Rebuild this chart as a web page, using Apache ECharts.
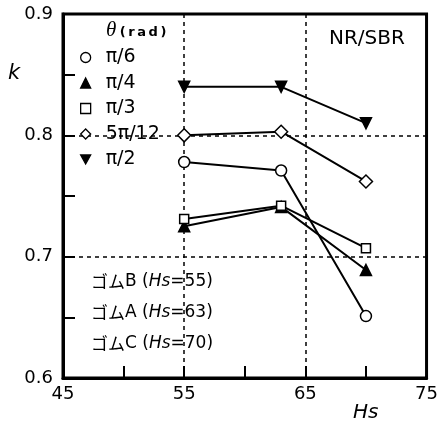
<!DOCTYPE html>
<html><head><meta charset="utf-8">
<script src="https://cdn.jsdelivr.net/npm/echarts@6/dist/echarts.min.js"></script>
<style>html,body{margin:0;padding:0;background:#fff}#c{width:441px;height:425px}</style>
</head><body><div id="c"></div>
<script>
const hs = [55, 63, 70];
const seriesNames = ['π/6', 'π/4', 'π/3', '5π/12', 'π/2'];
const kPi6 = [0.778, 0.771, 0.651];
const kPi4 = [0.725, 0.741, 0.689];
const kPi3 = [0.731, 0.742, 0.707];
const k5Pi12 = [0.800, 0.803, 0.762];
const kPi2 = [0.840, 0.840, 0.810];
const xTicks = [45, 55, 65, 75];
const yTicks = [0.6, 0.7, 0.8, 0.9];
const rubberLabels = [['ゴム', 'B', '55'], ['ゴム', 'A', '63'], ['ゴム', 'C', '70']];

const FONT = '"DejaVu Sans", "Liberation Sans", sans-serif';
const vals = [kPi6, kPi4, kPi3, k5Pi12, kPi2];
const sym = [
  {symbol: 'circle', hollow: true, size: 11, rot: 0},
  {symbol: 'triangle', hollow: false, size: 11, rot: 0},
  {symbol: 'rect', hollow: true, size: 9, rot: 0},
  {symbol: 'diamond', hollow: true, size: 13, rot: 0},
  {symbol: 'triangle', hollow: false, size: 11, rot: 180}
];
const legendIcons = ['circle', 'triangle', 'rect', 'diamond', 'path://M0,0 L10,0 L5,9 Z'];

const series = seriesNames.map((n, i) => ({
  name: n, type: 'line',
  data: hs.map((x, j) => [x, vals[i][j]]),
  symbol: sym[i].symbol, symbolSize: sym[i].size, symbolRotate: sym[i].rot,
  lineStyle: {color: '#000', width: 2},
  itemStyle: {color: sym[i].hollow ? '#fff' : '#000', borderColor: '#000', borderWidth: 1.5},
  z: 3
}));

const txt = (extra) => Object.assign({fontSize: 17, fontFamily: FONT, fill: '#000', lineHeight: 20, verticalAlign: 'middle'}, extra || {});

const chart = echarts.init(document.getElementById('c'), null, {renderer: 'canvas'});
chart.setOption({
  animation: false,
  backgroundColor: '#fff',
  grid: {left: 63, right: 13, top: 14, bottom: 47, show: true, borderColor: '#000', borderWidth: 3, backgroundColor: 'transparent'},
  xAxis: {
    type: 'value', min: xTicks[0], max: xTicks[xTicks.length - 1], interval: 10,
    axisLine: {show: true, lineStyle: {color: '#000', width: 3}},
    axisTick: {show: true, inside: true, length: 12, lineStyle: {color: '#000', width: 2}},
    minorTick: {show: true, splitNumber: 2, length: 12, lineStyle: {color: '#000', width: 2}},
    splitLine: {show: true, lineStyle: {color: '#000', width: 1.5, type: [4, 4]}},
    axisLabel: {color: '#000', fontSize: 18, fontFamily: FONT, margin: 7}
  },
  yAxis: {
    type: 'value', min: yTicks[0], max: yTicks[yTicks.length - 1], interval: 0.1,
    axisLine: {show: true, lineStyle: {color: '#000', width: 3}},
    axisTick: {show: true, inside: true, length: 12, lineStyle: {color: '#000', width: 2}},
    minorTick: {show: true, splitNumber: 2, length: 12, lineStyle: {color: '#000', width: 2}},
    splitLine: {show: true, lineStyle: {color: '#000', width: 1.5, type: [4, 4]}},
    axisLabel: {color: '#000', fontSize: 18, fontFamily: FONT, margin: 10, formatter: v => v.toFixed(1)}
  },
  legend: {
    orient: 'vertical', left: 75, top: 43, itemGap: 6.5, itemWidth: 10, itemHeight: 10,
    data: seriesNames.map((n, i) => ({name: n, icon: legendIcons[i]})),
    textStyle: {color: '#000', fontSize: 19, lineHeight: 19, fontFamily: FONT, padding: [0, 0, 0, 10]},
    itemStyle: {borderColor: '#000', borderWidth: 1.3}
  },
  graphic: [
    {type: 'text', left: 106, top: 20, style: {text: '{t|θ} {r|(\u2009r\u2009a\u2009d\u2009)}', rich: {
      t: {fontSize: 21, fontStyle: 'italic', fontFamily: '"Liberation Serif", serif', fill: '#000'},
      r: {fontSize: 13, fontFamily: FONT, fill: '#000', fontWeight: 'bold', padding: [4, 0, 0, 0]}}}},
    {type: 'text', left: 329, top: 29, style: {text: 'NR/SBR', fontSize: 20, fontFamily: FONT, fill: '#000'}},
    {type: 'text', left: 8, top: 63, style: {text: 'k', fontSize: 21, fontStyle: 'italic', fontFamily: FONT, fill: '#000'}},
    {type: 'text', left: 353, top: 403, style: {text: 'Hs', fontSize: 20, fontStyle: 'italic', fontFamily: FONT, fill: '#000'}}
  ].concat(rubberLabels.map((r, i) => ({
    type: 'text', left: 91, top: 273 + i * 31,
    style: {text: '{c|' + r[0] + '}{n|' + r[1] + ' (}{h|Hs}{n|=' + r[2] + ')}',
      rich: {c: txt({fontFamily: '"Noto Sans CJK JP", sans-serif'}),
             n: txt(),
             h: txt({fontStyle: 'italic'})}}
  }))),
  series: series
});
</script></body></html>
